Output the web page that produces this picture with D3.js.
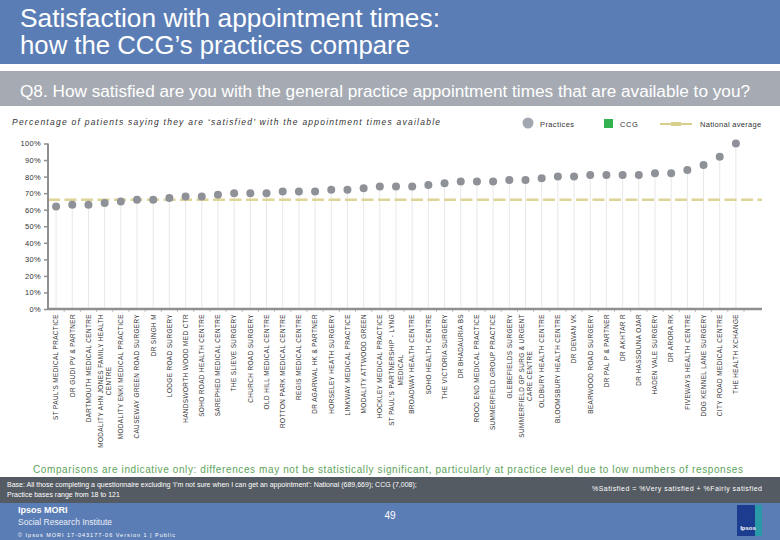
<!DOCTYPE html>
<html><head><meta charset="utf-8">
<script src="https://cdn.jsdelivr.net/npm/d3@7"></script>
<style>
html,body{margin:0;padding:0;background:#fff;}
svg{display:block;font-family:"Liberation Sans",Arial,sans-serif;}
</style></head>
<body>
<svg id="chart" width="780" height="540"></svg>
<script>
const categories = [
  "ST PAUL'S MEDICAL PRACTICE","DR GUDI PV & PARTNER","DARTMOUTH MEDICAL CENTRE",
  "MODALITY AHN JONES FAMILY HEALTH\nCENTRE","MODALITY ENKI MEDICAL PRACTICE","CAUSEWAY GREEN ROAD SURGERY",
  "DR SINGH M","LODGE ROAD SURGERY","HANDSWORTH WOOD MED CTR","SOHO ROAD HEALTH CENTRE",
  "SAREPHED MEDICAL CENTRE","THE SLIEVE SURGERY","CHURCH ROAD SURGERY","OLD HILL MEDICAL CENTRE",
  "ROTTON PARK MEDICAL CENTRE","REGIS MEDICAL CENTRE","DR AGARWAL HK & PARTNER","HORSELEY HEATH SURGERY",
  "LINKWAY MEDICAL PRACTICE","MODALITY ATTWOOD GREEN","HOCKLEY MEDICAL PRACTICE",
  "ST PAUL'S PARTNERSHIP - LYNG\nMEDICAL","BROADWAY HEALTH CENTRE","SOHO HEALTH CENTRE",
  "THE VICTORIA SURGERY","DR BHADAURIA BS","ROOD END MEDICAL PRACTICE","SUMMERFIELD GROUP PRACTICE",
  "GLEBEFIELDS SURGERY","SUMMERFIELD GP SURG & URGENT\nCARE CENTRE","OLDBURY HEALTH CENTRE",
  "BLOOMSBURY HEALTH CENTRE","DR DEWAN VK","BEARWOOD ROAD SURGERY","DR PAL P & PARTNER",
  "DR AKHTAR R","DR HASSOUNA OJAR","HADEN VALE SURGERY","DR ARORA RK","FIVEWAYS HEALTH CENTRE",
  "DOG KENNEL LANE SURGERY","CITY ROAD MEDICAL CENTRE","THE HEALTH XCHANGE"
];
const practiceValues = [62,63,63,64,65,66,66,67,68,68,69,70,70,70,71,71,71,72,72,73,74,74,74,75,76,77,77,77,78,78,79,80,80,81,81,81,81,82,82,84,87,92,100];
const nationalAverage = 66;
const yTicks = [0,10,20,30,40,50,60,70,80,90,100];

const svg = d3.select("#chart");
const BLUE = "#5b7db5";
const NARROW = "'Liberation Sans Narrow','Arial Narrow','Liberation Sans',Arial,sans-serif";

// Header
svg.append("rect").attr("x",0).attr("y",0).attr("width",780).attr("height",64).attr("fill",BLUE);
svg.append("text").attr("x",20).attr("y",27).attr("fill","#fff").attr("font-size",25).attr("font-family",NARROW)
  .attr("textLength",420).attr("lengthAdjust","spacingAndGlyphs")
  .text("Satisfaction with appointment times:");
svg.append("text").attr("x",20).attr("y",54).attr("fill","#fff").attr("font-size",25).attr("font-family",NARROW)
  .attr("textLength",390).attr("lengthAdjust","spacingAndGlyphs")
  .text("how the CCG\u2019s practices compare");
svg.append("rect").attr("x",0).attr("y",71).attr("width",780).attr("height",35).attr("fill","#a6abb3");
svg.append("text").attr("x",20).attr("y",97).attr("fill","#fff").attr("font-size",16).attr("font-family",NARROW)
  .attr("textLength",730).attr("lengthAdjust","spacingAndGlyphs")
  .text("Q8. How satisfied are you with the general practice appointment times that are available to you?");
svg.append("text").attr("x",12).attr("y",125).attr("fill","#333").attr("font-size",8.5).attr("font-style","italic")
  .attr("textLength",428).attr("lengthAdjust","spacing")
  .text("Percentage of patients saying they are \u2018satisfied\u2019 with the appointment times available");

// Legend
svg.append("circle").attr("cx",528).attr("cy",123).attr("r",5.5).attr("fill","#a3a8b0");
svg.append("text").attr("x",540).attr("y",126.5).attr("font-size",7.5).attr("fill","#333").attr("letter-spacing",0.4).text("Practices");
svg.append("rect").attr("x",604).attr("y",119).attr("width",9).attr("height",9).attr("fill","#33b24f");
svg.append("text").attr("x",620).attr("y",126.5).attr("font-size",7.5).attr("fill","#333").attr("letter-spacing",0.6).text("CCG");
svg.append("line").attr("x1",660).attr("x2",692).attr("y1",124).attr("y2",124).attr("stroke","#d8cf8c").attr("stroke-width",2);
svg.append("rect").attr("x",671).attr("y",122).attr("width",10).attr("height",4).attr("fill","#d8cf8c");
svg.append("text").attr("x",700).attr("y",126.5).attr("font-size",7.5).attr("fill","#333").attr("letter-spacing",0.3).text("National average");

// Scales
const x = d3.scaleBand().domain(categories).range([48,744]);
const y = d3.scaleLinear().domain([0,100]).range([309,143.5]);
const cx = d => x(d) + x.bandwidth()/2;

// drop lines
svg.append("g").selectAll("line").data(categories).join("line")
  .attr("x1",d=>cx(d)).attr("x2",d=>cx(d))
  .attr("y1",(d,i)=>y(practiceValues[i])+4).attr("y2",y(0))
  .attr("stroke","#e8e8e8").attr("stroke-width",1);

// national average
svg.append("line").attr("x1",48).attr("x2",762).attr("y1",y(nationalAverage)).attr("y2",y(nationalAverage))
  .attr("stroke","#ddd496").attr("stroke-width",2.5).attr("stroke-dasharray","12,4.5");

// y axis
const yAxis = d3.axisLeft(y).tickValues(yTicks).tickSize(4).tickFormat(d=>d+"%");
const gy = svg.append("g").attr("transform","translate(48,0)").call(yAxis);
gy.select(".domain").attr("stroke","#8f8f8f").attr("stroke-width",2).attr("d","M0,"+y(100)+"V"+y(0));
gy.selectAll(".tick line").attr("stroke","#8f8f8f").attr("stroke-width",1.5);
gy.selectAll(".tick text").attr("font-size",7.5).attr("fill","#333").attr("x",-7).attr("letter-spacing",0.3)
  .attr("font-family","Liberation Sans, Arial, sans-serif");

// x axis
const xAxis = d3.axisBottom(x).tickSize(0).tickFormat("");
const gx = svg.append("g").attr("transform","translate(0,"+y(0)+")").call(xAxis);
gx.select(".domain").attr("stroke","#8f8f8f").attr("stroke-width",2.5).attr("d","M48,0H762");
svg.append("g").selectAll("line").data(categories).join("line")
  .attr("x1",d=>x(d)+x.bandwidth()).attr("x2",d=>x(d)+x.bandwidth())
  .attr("y1",y(0)+1).attr("y2",y(0)+3).attr("stroke","#bbb").attr("stroke-width",1);

// x labels
const lab = svg.append("g");
const fs = 6.4, ls = 0.4;
categories.forEach(c=>{
  const lines = c.split("\n");
  const g = lab.append("g").attr("transform","translate("+cx(c)+","+(y(0)+5)+") rotate(-90)");
  const t1 = g.append("text").attr("text-anchor","end").attr("font-size",fs).attr("letter-spacing",ls)
    .attr("fill","#333").attr("x",0).attr("y",(lines.length>1?-4:0)+2.3).text(lines[0]);
  if(lines.length>1){
    const L = t1.node().getComputedTextLength();
    g.append("text").attr("text-anchor","middle").attr("font-size",fs).attr("letter-spacing",ls)
      .attr("fill","#333").attr("x",-L/2).attr("y",4.3+2.3).text(lines[1]);
  }
});

// points
svg.append("g").selectAll("circle").data(categories).join("circle")
  .attr("cx",d=>cx(d)).attr("cy",(d,i)=>y(practiceValues[i])).attr("r",4)
  .attr("fill","#8e9197");

// footer
svg.append("text").attr("x",33).attr("y",473).attr("font-size",10)
  .attr("textLength",710).attr("lengthAdjust","spacing")
  .attr("fill","#5ea35a").text("Comparisons are indicative only: differences may not be statistically significant, particularly at practice level due to low numbers of responses");
svg.append("rect").attr("x",0).attr("y",477).attr("width",780).attr("height",26).attr("fill","#555b63");
svg.append("text").attr("x",7).attr("y",487).attr("font-size",7).attr("fill","#fff")
  .text("Base: All those completing a questionnaire excluding \u2018I\u2019m not sure when I can get an appointment\u2019: National (689,669); CCG (7,008);");
svg.append("text").attr("x",7).attr("y",497).attr("font-size",7).attr("fill","#fff")
  .text("Practice bases range from 18 to 121");
svg.append("text").attr("x",592).attr("y",491).attr("font-size",7).attr("fill","#fff")
  .attr("textLength",170).attr("lengthAdjust","spacing")
  .text("%Satisfied = %Very satisfied + %Fairly satisfied");
svg.append("rect").attr("x",0).attr("y",503).attr("width",780).attr("height",37).attr("fill",BLUE);
svg.append("text").attr("x",18).attr("y",513).attr("font-size",9).attr("font-weight","bold").attr("fill","#fff").text("Ipsos MORI");
svg.append("text").attr("x",18).attr("y",525).attr("font-size",8.5).attr("fill","#e8eef8").text("Social Research Institute");
svg.append("text").attr("x",18).attr("y",537).attr("font-size",5.5).attr("fill","#fff")
  .attr("textLength",157).attr("lengthAdjust","spacing")
  .text("\u00A9 Ipsos MORI      17-043177-06 Version 1 | Public");
svg.append("text").attr("x",390).attr("y",519).attr("text-anchor","middle").attr("font-size",10).attr("fill","#fff").text("49");
// logo
svg.append("rect").attr("x",737).attr("y",505).attr("width",25).attr("height",31).attr("fill","#1c3d8f");
svg.append("rect").attr("x",755).attr("y",505).attr("width",7).attr("height",31).attr("fill","#2a9aa8");
svg.append("text").attr("x",748).attr("y",530).attr("text-anchor","middle").attr("font-size",6).attr("font-weight","bold").attr("fill","#fff").text("Ipsos");
</script>
</body></html>
